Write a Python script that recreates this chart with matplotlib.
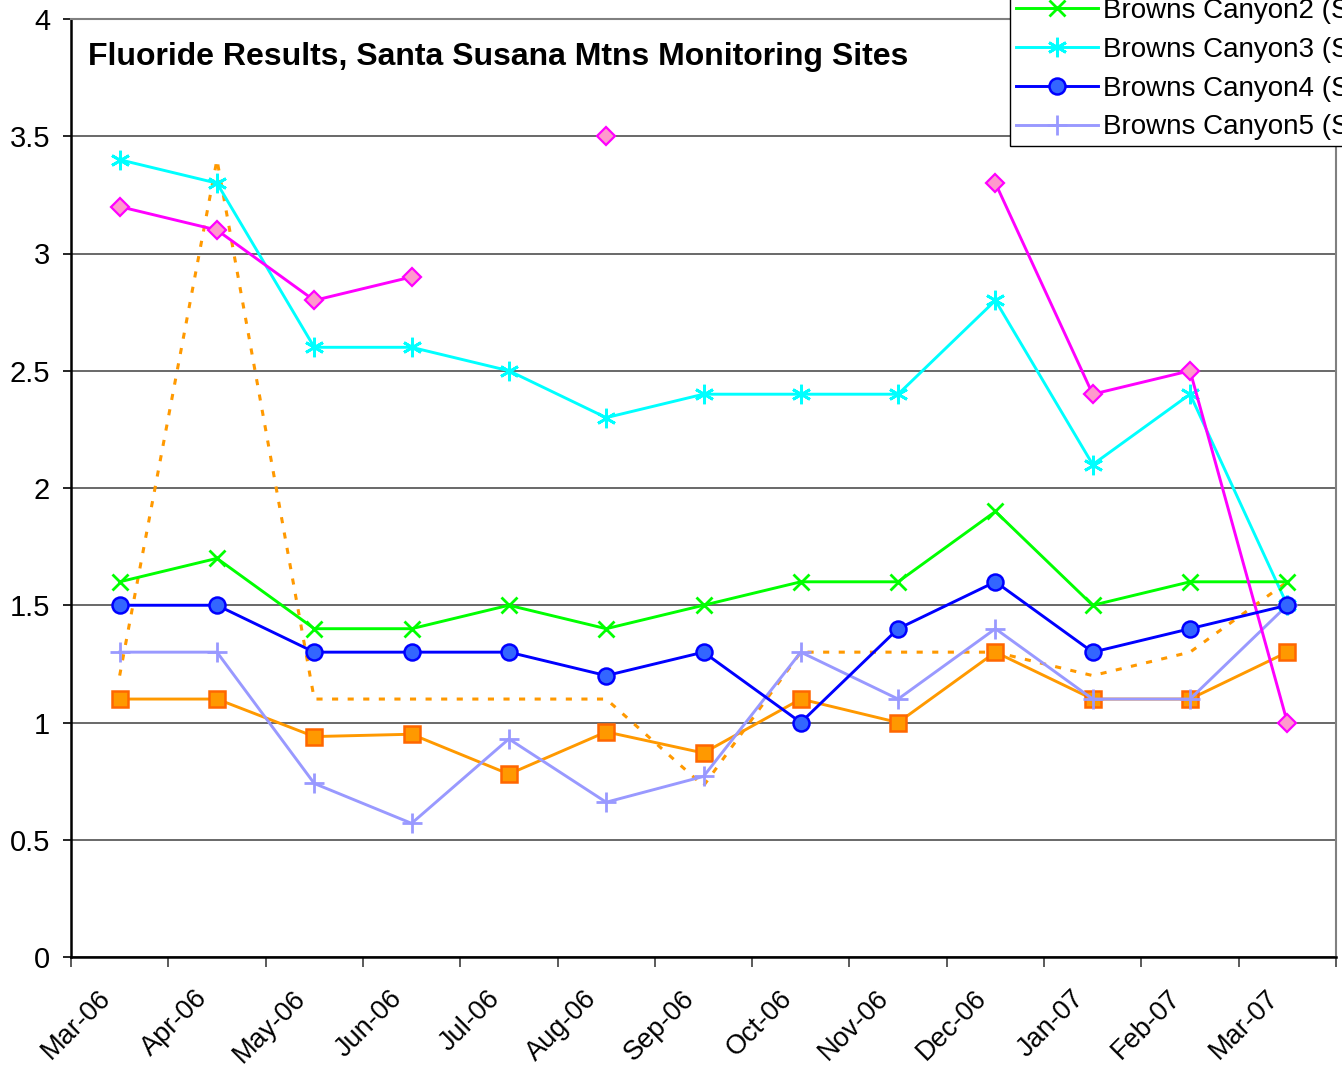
import numpy as np
import matplotlib
matplotlib.use('Agg')
import matplotlib.pyplot as plt
from matplotlib.ticker import FuncFormatter
from matplotlib import transforms

plt.rcParams['font.family'] = ['Liberation Sans', 'DejaVu Sans']

months = ['Mar-06', 'Apr-06', 'May-06', 'Jun-06', 'Jul-06', 'Aug-06', 'Sep-06',
          'Oct-06', 'Nov-06', 'Dec-06', 'Jan-07', 'Feb-07', 'Mar-07']
nan = np.nan
canyon1 = [3.2, 3.1, 2.8, 2.9, nan, 3.5, nan, nan, nan, 3.3, 2.4, 2.5, 1.0]
canyon2 = [1.6, 1.7, 1.4, 1.4, 1.5, 1.4, 1.5, 1.6, 1.6, 1.9, 1.5, 1.6, 1.6]
canyon3 = [3.4, 3.3, 2.6, 2.6, 2.5, 2.3, 2.4, 2.4, 2.4, 2.8, 2.1, 2.4, 1.5]
canyon4 = [1.5, 1.5, 1.3, 1.3, 1.3, 1.2, 1.3, 1.0, 1.4, 1.6, 1.3, 1.4, 1.5]
canyon5 = [1.3, 1.3, 0.74, 0.57, 0.93, 0.66, 0.77, 1.3, 1.1, 1.4, 1.1, 1.1, 1.5]
canyon6 = [1.1, 1.1, 0.94, 0.95, 0.78, 0.96, 0.87, 1.1, 1.0, 1.3, 1.1, 1.1, 1.3]
average = [1.2, 3.4, 1.1, 1.1, 1.1, 1.1, 0.73, 1.3, 1.3, 1.3, 1.2, 1.3, 1.6]

labels = ['Browns Canyon2 (S', 'Browns Canyon3 (S',
          'Browns Canyon4 (S', 'Browns Canyon5 (S']
title = 'Fluoride Results, Santa Susana Mtns Monitoring Sites'

W, H = 1342, 1070
fig = plt.figure(figsize=(W / 100, H / 100), dpi=100)
ax = fig.add_axes([71 / W, 1 - 957 / H, (1336 - 71) / W, (957 - 19) / H])

x = np.arange(len(months))
lw = 2.1

ax.plot(x, average, color='#FF9900', lw=2.2, linestyle=(0, (2.0, 3.1)), zorder=2)
ax.plot(x, canyon6, color='#FF9900', lw=lw, marker='s', ms=11.5,
        mfc='#FF9900', mec='#FF6600', mew=1.8, zorder=3)
l5, = ax.plot(x, canyon5, color='#9999FF', lw=lw, marker='+', ms=14, mew=2.0, zorder=3)
l4, = ax.plot(x, canyon4, color='#0000FF', lw=lw, marker='o', ms=11.5,
              mfc='#3366FF', mec='#0000FF', mew=1.8, zorder=4)
l3, = ax.plot(x, canyon3, color='#00FFFF', lw=lw, marker=(6, 2, 0), ms=14, mew=2.0, zorder=3)
l2, = ax.plot(x, canyon2, color='#00FF00', lw=lw, marker='x', ms=12, mew=2.0, zorder=3)
ax.plot(x, canyon1, color='#FF00FF', lw=lw, marker='D', ms=9,
        mfc='#FF99CC', mec='#FF00FF', mew=1.6, zorder=3)

ax.set_xlim(-0.5, len(months) - 0.5)
ax.set_ylim(0, 4)
ax.set_yticks(np.arange(0, 4.01, 0.5))
ax.yaxis.set_major_formatter(FuncFormatter(lambda v, p: f'{v:g}'))
ax.yaxis.grid(True, color='#404040', lw=1.1)
ax.set_axisbelow(True)

ax.set_xticks(x)
ax.set_xticklabels(months, rotation=45, ha='right', va='center', rotation_mode='anchor')
ax.set_xticks(np.arange(-0.5, len(months), 1), minor=True)
ax.tick_params(axis='x', which='major', length=0, pad=27, labelsize=19.5)
ax.tick_params(axis='x', which='minor', length=7, width=1.2, direction='out', color='#404040')
ax.tick_params(axis='y', length=6, width=1.2, direction='out', pad=9, labelsize=21)
offset = transforms.ScaledTranslation(-13 / 100, 0, fig.dpi_scale_trans)
for lab in ax.get_xticklabels():
    lab.set_transform(lab.get_transform() + offset)

for s in ['left', 'bottom']:
    ax.spines[s].set_color('black')
    ax.spines[s].set_linewidth(1.8)
for s in ['top', 'right']:
    ax.spines[s].set_color('#808080')
    ax.spines[s].set_linewidth(1.5)

fig.text(88 / W, 1 - 57 / H, title, fontsize=23, fontweight='bold', ha='left', va='center')

leg = fig.legend([l2, l3, l4, l5], labels, loc='lower left',
                 bbox_to_anchor=(1010 / W, 1 - 146 / H), bbox_transform=fig.transFigure,
                 fontsize=20, frameon=True, fancybox=False, edgecolor='black',
                 handlelength=2.95, handletextpad=0.2, labelspacing=0.46,
                 borderpad=0.2, borderaxespad=0, framealpha=1)
leg.get_frame().set_linewidth(1.0)

fig.savefig('out.png', dpi=100)
